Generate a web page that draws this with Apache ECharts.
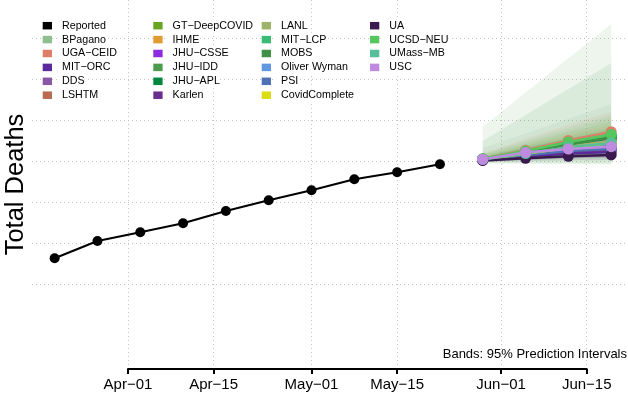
<!DOCTYPE html>
<html><head><meta charset="utf-8">
<script src="https://cdn.jsdelivr.net/npm/echarts@6/dist/echarts.min.js"></script>
<style>html,body{margin:0;padding:0;background:#fff}#c{width:628px;height:402px}</style>
</head><body><div id="c"></div>
<script>
// ---------- data ----------
const reportedDates = ['2020-03-20','2020-03-27','2020-04-03','2020-04-10','2020-04-17','2020-04-24','2020-05-01','2020-05-08','2020-05-15','2020-05-22'];
const reportedDeaths = [634, 1056, 1268, 1488, 1788, 2049, 2293, 2561, 2732, 2927];
const forecastDates = ['2020-05-29','2020-06-05','2020-06-12','2020-06-19'];
const models = ['BPagano','UGA−CEID','MIT−ORC','DDS','LSHTM','GT−DeepCOVID','IHME','JHU−CSSE','JHU−IDD','JHU−APL','Karlen','LANL','MIT−LCP','MOBS','Oliver Wyman','PSI','CovidComplete','UA','UCSD−NEU','UMass−MB','USC'];
const modelColors = ['#8fbf8f','#dd7f68','#5a2a9c','#8957a6','#b96b52','#6aa521','#e09c30','#8c2be0','#4c9a4c','#00873f','#6a2d90','#9fb26a','#3dba74','#3f9145','#6196e0','#4f72b4','#dcdc14','#3a1a4e','#56c65e','#55be9a','#c08ae0'];
// medians, one array per forecast week, in model order
const medianW1 = [3046,3065,3028,3035,3040,3052,3044,3048,3055,3050,3030,3045,3058,3050,3038,3033,3042,3020,3060,3045,3050];
const medianW2 = [3200,3270,3120,3160,3180,3220,3190,3205,3230,3210,3140,3195,3240,3215,3170,3150,3185,3073,3250,3190,3215];
const medianW3 = [3370,3510,3190,3270,3320,3420,3350,3385,3440,3400,3230,3360,3450,3410,3300,3250,3330,3122,3470,3340,3300];
const medianW4 = [3520,3722,3227,3324,3422,3593,3471,3544,3617,3568,3276,3500,3642,3585,3398,3300,3446,3154,3654,3446,3356];
// 95% prediction interval bounds
const lowerW1 = [2980,3000,2995,2990,2990,2995,3000,3000,2946,3000,2990,2985,3010,2960,2995,2990,3000,2990,2990,3000,3000];
const lowerW2 = [2995,3080,3040,3050,3060,3060,3060,3080,2942,3090,3040,3030,3100,2955,3060,3040,3070,3010,3060,3080,3080];
const lowerW3 = [3005,3160,3070,3100,3120,3120,3110,3150,2936,3160,3080,3070,3190,2950,3110,3080,3120,3030,3130,3140,3120];
const lowerW4 = [3015,3230,3080,3130,3170,3170,3150,3200,2927,3220,3100,3100,3260,2945,3150,3100,3160,3040,3190,3180,3140];
const upperW1 = [3324,3200,3060,3080,3090,3150,3120,3100,3844,3100,3070,3170,3110,3495,3080,3070,3090,3050,3180,3090,3100];
const upperW2 = [3680,3550,3200,3260,3300,3420,3380,3320,4680,3330,3230,3460,3360,4129,3270,3250,3290,3140,3500,3280,3290];
const upperW3 = [4036,3900,3330,3440,3510,3700,3640,3540,5512,3560,3390,3760,3600,4763,3460,3420,3500,3200,3820,3480,3450];
const upperW4 = [4390,4210,3450,3620,3700,3966,3885,3730,6341,3760,3560,4056,3812,5390,3640,3600,3680,3280,4129,3660,3580];
const tickDates = ['2020-04-01','2020-04-15','2020-05-01','2020-05-15','2020-06-01','2020-06-15'];
const tickLabels = ['Apr−01','Apr−15','May−01','May−15','Jun−01','Jun−15'];
const yGridValues = [0,1000,2000,3000,4000,5000,6000];
const legendColumns = [
  ['Reported','BPagano','UGA−CEID','MIT−ORC','DDS','LSHTM'],
  ['GT−DeepCOVID','IHME','JHU−CSSE','JHU−IDD','JHU−APL','Karlen'],
  ['LANL','MIT−LCP','MOBS','Oliver Wyman','PSI','CovidComplete'],
  ['UA','UCSD−NEU','UMass−MB','USC']
];
const noteText = 'Bands: 95% Prediction Intervals';
const yTitle = 'Total Deaths';

// ---------- helpers ----------
const base = Date.UTC(2020, 3, 1);
const dayOf = s => (Date.parse(s + 'T00:00:00Z') - base) / 86400000;
const reportedDays = reportedDates.map(dayOf);
const forecastDays = forecastDates.map(dayOf);
const tickDays = tickDates.map(dayOf);
const medians = [medianW1, medianW2, medianW3, medianW4];
const lowers = [lowerW1, lowerW2, lowerW3, lowerW4];
const uppers = [upperW1, upperW2, upperW3, upperW4];
const FONT = '"Liberation Sans", Arial, Helvetica, sans-serif';
const gridLine = { show: true, lineStyle: { color: '#c4c4c4', width: 1, type: [1, 3] } };

const series = [];
series.push({
  type: 'custom', name: 'bands', coordinateSystem: 'cartesian2d', xAxisIndex: 0, yAxisIndex: 0,
  silent: true, z: 1,
  data: models.map((m, i) => [forecastDays[0], medianW1[i]]),
  encode: { x: 0, y: 1 },
  renderItem: function (params, api) {
    const i = params.dataIndex;
    const top = forecastDays.map((d, k) => api.coord([d, uppers[k][i]]));
    const bot = forecastDays.map((d, k) => api.coord([d, lowers[k][i]])).reverse();
    return { type: 'polygon', shape: { points: top.concat(bot) }, style: { fill: modelColors[i], opacity: 0.1 } };
  }
});
series.push({
  type: 'line', name: 'Reported', xAxisIndex: 0, yAxisIndex: 0, z: 3,
  data: reportedDays.map((d, k) => [d, reportedDeaths[k]]),
  symbol: 'circle', symbolSize: 10, showSymbol: true,
  lineStyle: { color: '#000', width: 2 }, itemStyle: { color: '#000' }
});
models.forEach((m, i) => {
  series.push({
    type: 'line', name: m, xAxisIndex: 0, yAxisIndex: 0, z: 3,
    data: forecastDays.map((d, k) => [d, medians[k][i]]),
    symbol: 'circle', symbolSize: 11, showSymbol: true,
    lineStyle: { color: modelColors[i], width: 2.5 }, itemStyle: { color: modelColors[i] }
  });
});

const legendLeft = [42.7, 153.3, 261.7, 370];
const option = {
  animation: false,
  backgroundColor: '#fff',
  textStyle: { fontFamily: FONT },
  grid: [
    { left: 32, right: 0, top: 0, bottom: 33, outerBoundsMode: 'none', containLabel: false },
    { left: 128, right: 41.3, bottom: 33, height: 1, outerBoundsMode: 'none', containLabel: false }
  ],
  xAxis: [
    { type: 'value', gridIndex: 0, min: -15.70, max: 81.75,
      axisLine: { show: false }, axisTick: { show: false, customValues: tickDays },
      axisLabel: { show: false, customValues: tickDays }, splitLine: gridLine },
    { type: 'value', gridIndex: 1, min: 0, max: 75, position: 'bottom',
      axisLine: { show: true, onZero: false, lineStyle: { color: '#000', width: 2 } },
      axisTick: { show: true, customValues: tickDays, length: 5, lineStyle: { color: '#000', width: 2 } },
      axisLabel: { show: true, customValues: tickDays, margin: 8, fontSize: 15, color: '#000', fontFamily: FONT,
        formatter: v => tickLabels[tickDays.indexOf(v)] },
      splitLine: { show: false } }
  ],
  yAxis: [
    { type: 'value', gridIndex: 0, min: -2066, max: 6934,
      axisLine: { show: false }, axisTick: { show: false, customValues: yGridValues },
      axisLabel: { show: false, customValues: yGridValues }, splitLine: gridLine,
      name: yTitle, nameLocation: 'middle', nameGap: 3,
      nameTextStyle: { fontSize: 25.5, color: '#000', fontFamily: FONT } },
    { type: 'value', gridIndex: 1, show: false }
  ],
  legend: legendColumns.map((names, c) => ({
    data: names, orient: 'vertical', left: legendLeft[c], top: 18.75, padding: 0, itemGap: 0,
    itemWidth: 9.3, itemHeight: 7.5, icon: 'rect', selectedMode: false,
    itemStyle: { borderWidth: 0 },
    textStyle: { fontSize: 10.7, fontFamily: FONT, color: '#000', lineHeight: 13.9,
      padding: [0, 0, 0, 5], backgroundColor: '#fff' }
  })),
  graphic: [{
    type: 'text', x: 627, y: 354,
    style: { text: noteText, fill: '#000', fontSize: 13, fontFamily: FONT, align: 'right', verticalAlign: 'middle' }
  }],
  series: series
};
const chart = echarts.init(document.getElementById('c'), null, { renderer: 'canvas' });
chart.setOption(option);
</script></body></html>
